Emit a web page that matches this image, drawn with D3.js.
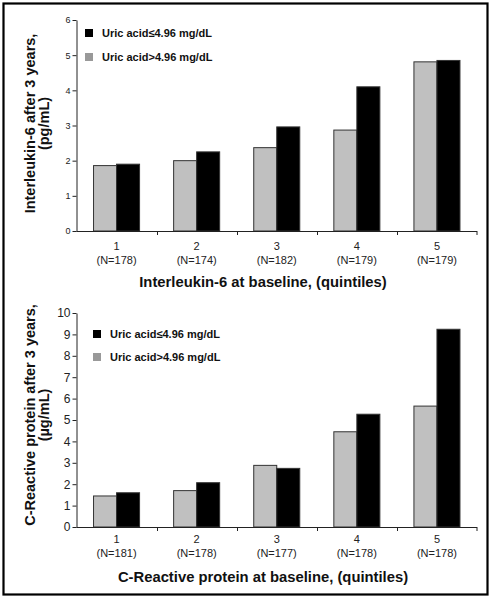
<!DOCTYPE html>
<html>
<head>
<meta charset="utf-8">
<script src="https://cdn.jsdelivr.net/npm/d3@7"></script>
<style>
  html, body { margin: 0; padding: 0; background: #fff; }
  svg { display: block; font-family: "Liberation Sans", Arial, Helvetica, sans-serif; }
</style>
</head>
<body>
<svg id="chart" width="494" height="601"></svg>
<script>
// ---- Data ----
const categories = ["1", "2", "3", "4", "5"];
const seriesNames = ["Uric acid>4.96 mg/dL", "Uric acid\u22644.96 mg/dL"];
const seriesKeys = ["high", "low"];

const il6Counts = ["(N=178)", "(N=174)", "(N=182)", "(N=179)", "(N=179)"];
const il6High = [1.86, 2.00, 2.37, 2.87, 4.81];  // gray: uric acid > 4.96
const il6Low  = [1.90, 2.25, 2.96, 4.10, 4.85];  // black: uric acid <= 4.96
const il6Ticks = [0, 1, 2, 3, 4, 5, 6];

const crpCounts = ["(N=181)", "(N=178)", "(N=177)", "(N=178)", "(N=178)"];
const crpHigh = [1.45, 1.70, 2.88, 4.45, 5.65];
const crpLow  = [1.60, 2.07, 2.74, 5.27, 9.24];
const crpTicks = [0, 1, 2, 3, 4, 5, 6, 7, 8, 9, 10];

// ---- Drawing ----
const svg = d3.select("#chart");
const colors = { high: "#c0c0c0", low: "#000000" };
const legendColors = { high: "#999999", low: "#000000" };

// outer frame
svg.append("rect")
  .attr("x", 3.5).attr("y", 3.5)
  .attr("width", 484).attr("height", 591)
  .attr("fill", "none").attr("stroke", "#000").attr("stroke-width", 2.2);

function drawPanel(cfg) {
  const g = svg.append("g");
  const x = d3.scaleBand().domain(categories).range([76.5, 477]).paddingInner(0).paddingOuter(0);
  const x1 = d3.scaleBand().domain(seriesKeys).range([0, x.bandwidth()]).paddingInner(0).paddingOuter(0.74);
  const y = d3.scaleLinear().domain([0, cfg.max]).range([cfg.y0, cfg.yTop]);

  const rows = categories.map((c, i) => ({ cat: c, high: cfg.high[i], low: cfg.low[i] }));

  // bars
  const grp = g.selectAll("g.cat").data(rows).join("g")
    .attr("transform", d => `translate(${x(d.cat)},0)`);
  grp.selectAll("rect").data(d => seriesKeys.map(k => ({ key: k, value: d[k] }))).join("rect")
    .attr("x", d => x1(d.key))
    .attr("width", x1.bandwidth())
    .attr("y", d => y(d.value))
    .attr("height", d => y(0) - y(d.value))
    .attr("fill", d => colors[d.key])
    .attr("stroke", "#333")
    .attr("stroke-width", 1);

  // y axis
  const yAxis = d3.axisLeft(y).tickValues(cfg.ticks).tickFormat(d3.format("d")).tickSize(4).tickSizeOuter(0);
  const ya = g.append("g").attr("transform", "translate(76.5,0)").call(yAxis);
  ya.select(".domain").attr("stroke", "#222");
  ya.selectAll(".tick line").attr("stroke", "#222");
  ya.selectAll(".tick text").attr("font-size", cfg.tickFont).attr("fill", "#222")
    .attr("font-family", '"Liberation Sans", Arial, sans-serif').attr("x", -6);

  // x axis line with ticks at band boundaries
  g.append("line").attr("x1", 76.5).attr("x2", 477).attr("y1", y(0) + 0.5).attr("y2", y(0) + 0.5)
    .attr("stroke", "#222");
  g.selectAll("line.xt").data(categories.slice(1).concat(["end"])).join("line")
    .attr("class", "xt")
    .attr("x1", d => d === "end" ? 477 : Math.round(x(d)) + 0.5)
    .attr("x2", d => d === "end" ? 477 : Math.round(x(d)) + 0.5)
    .attr("y1", y(0)).attr("y2", y(0) + 4).attr("stroke", "#222");

  // category labels
  g.selectAll("text.cl").data(categories).join("text")
    .attr("class", "cl")
    .attr("x", d => x(d) + x.bandwidth() / 2)
    .attr("y", cfg.catY)
    .attr("text-anchor", "middle").attr("font-size", 11).attr("fill", "#222")
    .text(d => d);
  g.selectAll("text.nl").data(cfg.counts).join("text")
    .attr("class", "nl")
    .attr("x", (d, i) => x(categories[i]) + x.bandwidth() / 2)
    .attr("y", cfg.catY + 14)
    .attr("text-anchor", "middle").attr("font-size", 11).attr("fill", "#222")
    .text(d => d);

  // x title
  g.append("text").attr("x", 263).attr("y", cfg.xTitleY)
    .attr("text-anchor", "middle").attr("font-size", 14.8).attr("font-weight", "bold").attr("fill", "#111")
    .text(cfg.xTitle);

  // y title (two lines)
  const cy = (cfg.y0 + cfg.yTop) / 2 + cfg.yTitleShift;
  cfg.yTitle.forEach((t, i) => {
    g.append("text")
      .attr("transform", `translate(${35 + i * 13.5},${cy}) rotate(-90)`)
      .attr("text-anchor", "middle").attr("font-size", 14.5).attr("font-weight", "bold").attr("fill", "#111")
      .text(t);
  });

  // legend (black first, then gray)
  const legendOrder = ["low", "high"];
  legendOrder.forEach((k, i) => {
    const ly = cfg.legendY + i * cfg.legendGap;
    g.append("rect").attr("x", cfg.legendX).attr("y", ly - 4).attr("width", 8).attr("height", 8)
      .attr("fill", legendColors[k]);
    g.append("text").attr("x", cfg.legendX + 17).attr("y", ly + 4)
      .attr("font-size", 11).attr("font-weight", "bold").attr("fill", "#111")
      .text(seriesNames[seriesKeys.indexOf(k)]);
  });
}

drawPanel({
  high: il6High, low: il6Low, counts: il6Counts, ticks: il6Ticks, max: 6,
  y0: 231, yTop: 20, tickFont: 9, catY: 250, xTitleY: 287,
  xTitle: "Interleukin-6 at baseline, (quintiles)",
  yTitle: ["Interleukin-6 after 3 years,", "(pg/mL)"], yTitleShift: -2,
  legendX: 85, legendY: 33, legendGap: 24
});

drawPanel({
  high: crpHigh, low: crpLow, counts: crpCounts, ticks: crpTicks, max: 10,
  y0: 527, yTop: 313, tickFont: 12, catY: 543, xTitleY: 582,
  xTitle: "C-Reactive protein at baseline, (quintiles)",
  yTitle: ["C-Reactive protein after 3 years,", "(\u00b5g/mL)"], yTitleShift: -5,
  legendX: 93, legendY: 334, legendGap: 23
});
</script>
</body>
</html>
